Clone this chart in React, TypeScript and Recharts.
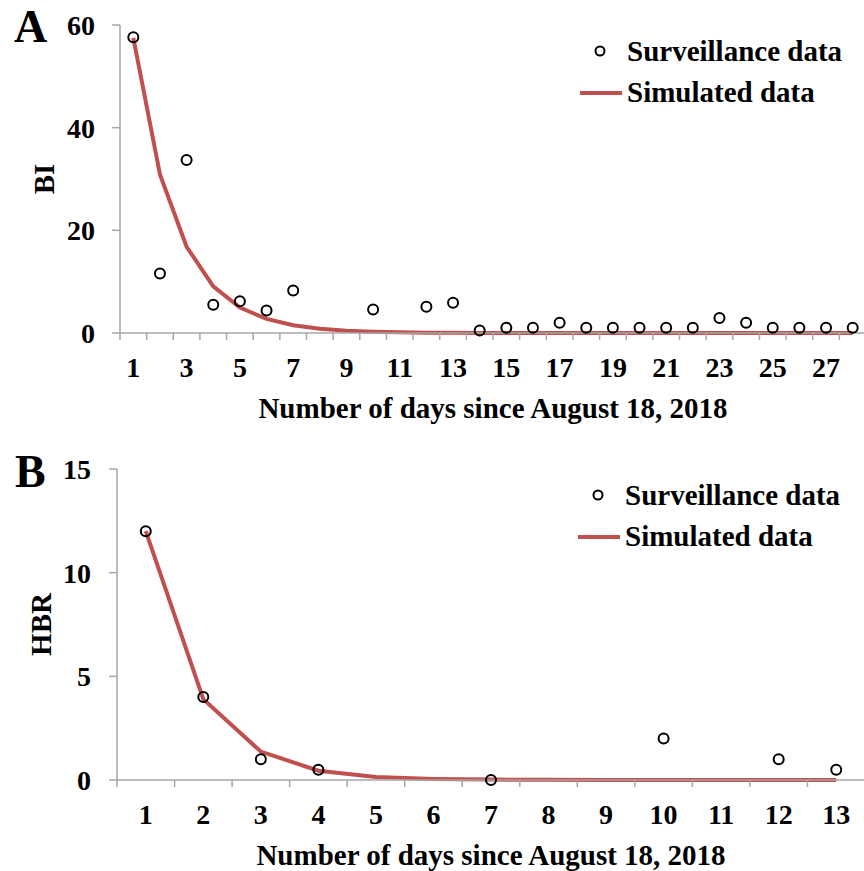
import React from 'react';
import { ComposedChart, Line, XAxis, YAxis, Legend } from 'recharts';

const FONT = "'Liberation Serif', 'Times New Roman', Times, serif";
const RED = '#C0504D';
const AXIS = '#A6A6A6';

// Panel A (BI)
const daysA = [1, 2, 3, 4, 5, 6, 7, 8, 9, 10, 11, 12, 13, 14, 15, 16, 17, 18, 19, 20, 21, 22, 23, 24, 25, 26, 27, 28];
const simulatedA = [57.5, 30.9, 16.8, 9.1, 4.95, 2.75, 1.5, 0.85, 0.45, 0.25, 0.13, 0.07, 0.04, 0.02, 0.01, 0, 0, 0, 0, 0, 0, 0, 0, 0, 0, 0, 0, 0];
const surveillanceA = [57.6, 11.6, 33.7, 5.5, 6.2, 4.4, 8.3, null, null, 4.6, null, 5.1, 5.9, 0.5, 1, 1, 2, 1, 1, 1, 1, 1, 2.9, 2, 1, 1, 1, 1];
const xLabelsA = [1, 3, 5, 7, 9, 11, 13, 15, 17, 19, 21, 23, 25, 27];
const yTicksA = [0, 20, 40, 60];

// Panel B (HBR)
const daysB = [1, 2, 3, 4, 5, 6, 7, 8, 9, 10, 11, 12, 13];
const simulatedB = [12, 3.9, 1.37, 0.45, 0.14, 0.05, 0.02, 0.01, 0, 0, 0, 0, 0];
const surveillanceB = [12, 4, 1, 0.5, null, null, 0, null, null, 2, null, 1, 0.5];
const xLabelsB = [1, 2, 3, 4, 5, 6, 7, 8, 9, 10, 11, 12, 13];
const yTicksB = [0, 5, 10, 15];

const X_TITLE = 'Number of days since August 18, 2018';
const LEGEND_OBS = 'Surveillance data';
const LEGEND_SIM = 'Simulated data';

const buildRows = (days: number[], sim: number[], obs: (number | null)[]) =>
  days.map((d, i) => ({ day: d, sim: sim[i], obs: obs[i] }));

const buildTicks = (days: number[]) => {
  const t: number[] = [days[0] - 0.5];
  days.forEach((d) => {
    t.push(d);
    t.push(d + 0.5);
  });
  return t;
};

const makeXTick = (labels: number[]) => (props: any) => {
  const { x, y, payload } = props;
  const v = payload.value;
  if (!Number.isInteger(v)) {
    return <line x1={x} x2={x} y1={y} y2={y + 7} stroke={AXIS} strokeWidth={1.5} />;
  }
  if (labels.includes(v)) {
    return (
      <text x={x} y={y + 44} textAnchor="middle" fontFamily={FONT} fontWeight="bold" fontSize={28} fill="#000">
        {v}
      </text>
    );
  }
  return <g />;
};

const makeYTitle = (text: string, cx: number) => (props: any) => {
  const vb = props.viewBox || {};
  const x = (vb.x ?? 0) + cx;
  const y = (vb.y ?? 0) + (vb.height ?? 0) / 2;
  return (
    <text
      x={x}
      y={y}
      transform={`rotate(-90 ${x} ${y})`}
      textAnchor="middle"
      dominantBaseline="central"
      fontFamily={FONT}
      fontWeight="bold"
      fontSize={29}
      fill="#000"
    >
      {text}
    </text>
  );
};

const makeXTitle = (text: string, dy: number) => (props: any) => {
  const vb = props.viewBox || {};
  const x = (vb.x ?? 0) + (vb.width ?? 0) / 2;
  const y = (vb.y ?? 0) + dy;
  return (
    <text x={x} y={y} textAnchor="middle" fontFamily={FONT} fontWeight="bold" fontSize={29} fill="#000">
      {text}
    </text>
  );
};

const LegendContent = () => (
  <svg width={300} height={90} style={{ display: 'block', overflow: 'visible' }}>
    <circle cx={30} cy={20} r={4.5} fill="none" stroke="#000" strokeWidth={2} />
    <text x={57} y={30} fontFamily={FONT} fontWeight="bold" fontSize={29} fill="#000">
      {LEGEND_OBS}
    </text>
    <line x1={10} x2={52} y1={62} y2={62} stroke={RED} strokeWidth={4} />
    <text x={57} y={71} fontFamily={FONT} fontWeight="bold" fontSize={29} fill="#000">
      {LEGEND_SIM}
    </text>
  </svg>
);

const dotStyle = { r: 5, fill: 'none', stroke: '#000', strokeWidth: 2 };
const yTickStyle = { fontSize: 28, fontWeight: 'bold', fill: '#000', fontFamily: FONT };

interface PanelProps {
  days: number[];
  sim: number[];
  obs: (number | null)[];
  xLabels: number[];
  yTicks: number[];
  yTitle: string;
  yTitleX: number;
  width: number;
  height: number;
  margin: { top: number; right: number; left: number; bottom: number };
  yWidth: number;
  xHeight: number;
  legendPos: { left: number; top: number };
  yTickMargin: number;
}

const Panel = (p: PanelProps) => {
  const rows = buildRows(p.days, p.sim, p.obs);
  const ticks = buildTicks(p.days);
  const lo = p.days[0] - 0.5;
  const hi = p.days[p.days.length - 1] + 0.5;
  return (
    <ComposedChart width={p.width} height={p.height} data={rows} margin={p.margin}>
      <XAxis
        dataKey="day"
        type="number"
        domain={[lo, hi]}
        ticks={ticks}
        interval={0}
        tickSize={0}
        tickMargin={0}
        tickLine={false}
        axisLine={{ stroke: AXIS, strokeWidth: 1.5 }}
        tick={makeXTick(p.xLabels)}
        height={p.xHeight}
        label={{ content: makeXTitle(X_TITLE, 85) }}
      />
      <YAxis
        type="number"
        domain={[p.yTicks[0], p.yTicks[p.yTicks.length - 1]]}
        ticks={p.yTicks}
        interval={0}
        width={p.yWidth}
        tickSize={8}
        tickMargin={p.yTickMargin}
        tickLine={{ stroke: AXIS, strokeWidth: 1.5 }}
        axisLine={{ stroke: AXIS, strokeWidth: 1.5 }}
        tick={yTickStyle}
        label={{ content: makeYTitle(p.yTitle, p.yTitleX) }}
      />
      <Legend
        layout="horizontal"
        verticalAlign="middle"
        align="center"
        content={<LegendContent />}
        wrapperStyle={{ left: p.legendPos.left, top: p.legendPos.top, width: 300, height: 90 }}
      />
      <Line
        dataKey="sim"
        type="linear"
        stroke={RED}
        strokeWidth={4}
        dot={false}
        activeDot={false}
        isAnimationActive={false}
        legendType="line"
      />
      <Line
        dataKey="obs"
        type="linear"
        stroke="none"
        strokeWidth={0}
        dot={dotStyle}
        activeDot={false}
        connectNulls={false}
        isAnimationActive={false}
        legendType="circle"
      />
    </ComposedChart>
  );
};

export default function App() {
  return (
    <div
      style={{
        position: 'absolute',
        left: 0,
        top: 0,
        width: 864,
        height: 871,
        overflow: 'hidden',
        background: '#fff',
      }}
    >
      <div style={{ position: 'absolute', left: 0, top: 0 }}>
        <Panel
          days={daysA}
          sim={simulatedA}
          obs={surveillanceA}
          xLabels={xLabelsA}
          yTicks={yTicksA}
          yTitle="BI"
          yTitleX={44}
          width={870}
          height={430}
          margin={{ top: 25, right: 4, left: 0, bottom: 0 }}
          yWidth={120}
          xHeight={97}
          legendPos={{ left: 570, top: 31 }}
          yTickMargin={17}
        />
      </div>
      <div style={{ position: 'absolute', left: 0, top: 430 }}>
        <Panel
          days={daysB}
          sim={simulatedB}
          obs={surveillanceB}
          xLabels={xLabelsB}
          yTicks={yTicksB}
          yTitle="HBR"
          yTitleX={41}
          width={870}
          height={441}
          margin={{ top: 39, right: 5, left: 0, bottom: 0 }}
          yWidth={117}
          xHeight={91}
          legendPos={{ left: 568, top: 45 }}
          yTickMargin={18}
        />
      </div>
      <svg
        width={864}
        height={871}
        style={{ position: 'absolute', left: 0, top: 0, pointerEvents: 'none' }}
      >
        <text x={14} y={42} fontFamily={FONT} fontWeight="bold" fontSize={46} fill="#000">
          A
        </text>
        <text x={15} y={487} fontFamily={FONT} fontWeight="bold" fontSize={46} fill="#000">
          B
        </text>
      </svg>
    </div>
  );
}
